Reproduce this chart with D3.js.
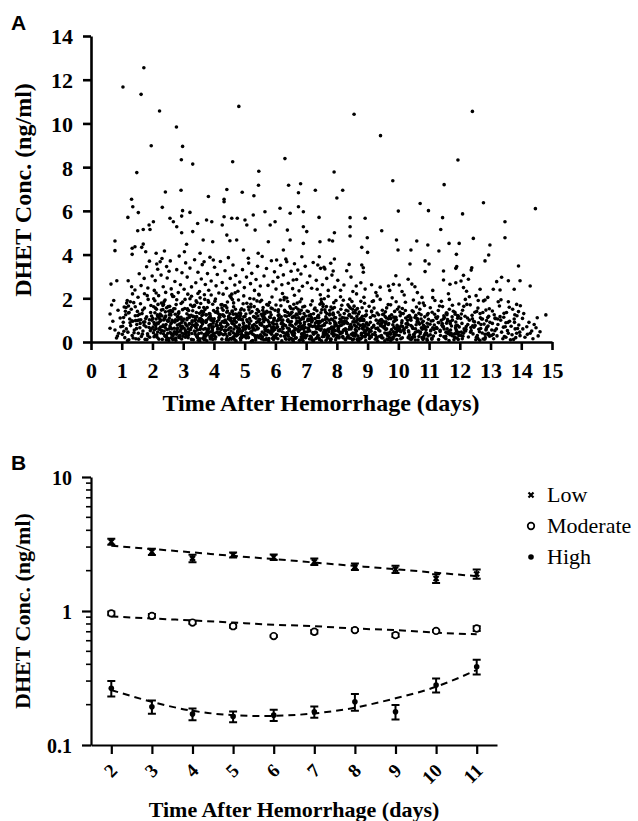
<!DOCTYPE html>
<head>
    <meta charset="utf-8">
    <script src="https://d3js.org/d3.v7.min.js"></script>
    <style>
        body { margin: 0; background: #fff; }
        text { font-family: "Liberation Serif", "Times New Roman", serif; }
    </style>
</head>

<body>
    <div id="chart"></div>
</body>

<script>

    // ---- panel A : individual samples, [day, conc, day, conc, ...] ----
    const outliers = [
        0.78,4.62, 0.78,4.18, 0.65,2.65, 0.84,2.8,
        1.04,11.67, 1.72,12.55, 1.63,11.33, 2.23,10.57, 1.49,7.75, 1.96,8.98, 2.78,9.84, 2.98,8.95,
        2.94,8.34, 3.31,8.14, 4.81,10.78, 4.61,8.25, 5.46,7.81, 5.45,7.17, 6.31,8.39, 6.43,7.17,
        6.82,7.24, 6.75,6.83, 7.30,6.94, 2.42,6.86, 2.93,6.94, 3.82,6.66, 4.42,6.98, 4.92,6.85,
        5.30,6.69, 1.32,6.53, 4.33,6.53, 8.56,10.42, 9.42,9.44, 12.41,10.55, 11.94,8.33, 7.91,7.78,
        9.82,7.38, 11.49,7.20, 8.19,6.94, 8.0,6.59, 10.71,6.34, 10.98,6.01, 10.0,5.99, 12.77,6.37,
        14.46,6.1, 12.09,5.86, 7.42,5.70, 8.43,5.69, 8.92,5.66, 6.91,5.96, 13.47,5.50, 13.47,4.77,
        8.43,5.27, 8.43,4.85, 9.46,5.09, 11.44,5.69, 11.38,5.15, 7.92,5.0, 7.75,4.67, 7.86,4.62,
        7.45,4.59, 8.99,4.77, 9.94,4.67, 10.6,4.62, 10.96,4.44, 11.65,4.51, 11.98,4.51, 12.44,4.74,
        12.98,4.44, 9.99,4.21, 10.41,4.21, 11.32,4.16, 11.89,4.01, 12.94,3.98, 12.82,3.71, 8.81,4.33,
        9.0,4.10, 7.43,3.9, 7.8,3.6, 7.92,3.8, 7.38,3.52, 7.47,3.37, 7.61,3.34, 7.88,3.25, 8.32,3.26,
        8.4,3.55, 8.81,3.52, 8.86,3.4, 8.86,3.19, 10.38,3.57, 11.0,3.57, 10.87,3.71, 10.87,3.22,
        11.47,3.25, 11.87,3.37, 11.9,3.45, 12.39,3.4, 12.37,3.29, 13.91,3.48, 12.12,3.05, 12.04,2.79,
        12.28,2.87, 9.92,3.03, 9.84,2.64, 10.03,2.61, 9.68,2.56, 10.32,2.87, 10.44,2.65, 10.54,2.53,
        11.47,2.84, 11.68,2.64, 11.87,2.71, 12.12,2.49, 12.66,2.41, 13.36,2.96, 13.2,2.76, 13.09,2.41,
        13.31,2.38, 13.58,2.8, 13.96,2.8, 13.77,2.41, 14.29,2.56, 13.58,1.84, 13.85,1.72, 13.91,1.39,
        14.04,1.08, 14.52,1.11, 14.8,1.24, 14.61,0.47, 14.29,0.4, 13.96,0.29, 14.18,0.7, 13.44,1.31,
        13.31,1.16, 12.91,2.04, 12.82,1.92,
        1.2,5.7, 1.36,6.19, 1.54,5.92, 1.34,4.29, 1.34,4.01, 1.43,4.36, 1.52,5.09, 1.7,5.15, 1.65,4.33,
        1.7,4.48, 1.78,4.13, 1.89,5.35, 1.92,5.15, 2.03,5.5, 1.21,2.8, 1.32,2.53, 1.43,2.38, 1.73,2.91,
        2.12,4.06, 2.17,3.33, 2.32,6.16, 2.25,3.67, 2.46,3.45, 2.39,4.16, 2.57,5.66, 2.68,5.5, 2.79,5.27,
        2.95,5.76, 2.98,6.01, 3.22,5.93, 2.95,5.0, 3.11,4.47, 3.04,4.13, 3.31,5.05, 3.47,5.42, 3.76,5.58,
        3.93,5.5, 3.65,4.67, 3.96,4.59, 3.55,4.06, 3.68,3.67, 3.98,3.75, 4.27,5.35, 4.33,6.42, 4.33,5.73,
        4.58,5.66, 4.76,5.66, 4.42,4.89, 4.52,4.63, 4.74,4.67, 5.01,5.58, 5.07,5.35, 5.34,5.12, 5.28,5.81,
        4.96,4.21, 5.12,3.83, 5.44,4.06, 5.77,4.59, 5.66,5.96, 5.83,5.35, 5.99,5.5, 6.15,6.12, 6.48,5.89,
        6.39,5.12, 6.48,4.67, 6.26,4.21, 6.04,3.75, 6.37,3.67, 6.75,6.19, 6.91,5.27, 6.91,4.51, 7.02,5.05,
        6.86,3.9, 6.73,3.29, 6.58,2.84
    ];

    const midBand = [
        1.57,3.12, 1.63,2.58, 1.81,3.44, 1.74,2.21, 1.9,3.7, 1.85,2.47, 1.99,3.02, 2.06,2.36, 2.14,3.57,
        2.09,2.81, 2.2,2.12, 2.28,3.06, 2.35,2.53, 2.31,3.82, 2.43,2.27, 2.48,2.93, 2.54,3.24, 2.61,2.43,
        2.58,3.71, 2.66,2.08, 2.73,2.77, 2.79,3.31, 2.84,2.26, 2.87,3.93, 2.91,2.62, 2.96,3.17, 3.03,2.41,
        3.08,3.62, 3.15,2.19, 3.13,2.97, 3.22,3.38, 3.27,2.52, 3.37,3.76, 3.41,2.71, 3.48,3.19, 3.53,2.31,
        3.59,2.88, 3.62,3.54, 3.69,2.16, 3.72,2.63, 3.79,3.13, 3.83,2.37, 3.87,3.88, 3.91,2.79, 4.02,3.42,
        4.07,2.57, 4.11,3.09, 4.16,2.24, 4.21,3.68, 4.27,2.72, 4.36,3.26, 4.41,2.46, 4.47,3.86, 4.53,2.91,
        4.58,2.19, 4.62,3.52, 4.68,2.61, 4.71,3.04, 4.78,2.32, 4.84,2.74, 4.93,3.31, 4.99,2.49, 5.06,2.97,
        5.13,3.61, 5.19,2.67, 5.23,3.14, 5.32,2.36, 5.37,2.86, 5.42,3.46, 5.51,2.56, 5.57,3.91, 5.63,3.02,
        5.71,3.36, 5.76,2.59, 5.87,3.72, 5.92,2.76, 5.97,3.21, 6.02,2.42, 6.08,2.96, 6.17,3.51, 6.21,2.62,
        6.26,3.07, 6.34,3.79, 6.42,2.69, 6.51,3.24, 6.56,2.44, 6.62,3.58, 6.69,2.86, 6.77,2.34, 6.83,3.11,
        6.88,2.55, 6.97,3.46, 7.04,2.71, 7.12,3.02, 7.18,2.46, 7.23,3.64, 7.33,2.82, 7.36,2.41, 7.53,2.62,
        7.58,3.42, 7.67,2.91, 7.72,2.36, 7.84,3.06, 7.93,2.51, 8.03,2.82, 8.12,2.37, 8.23,2.61, 8.46,2.97,
        8.52,2.31, 8.63,2.56, 8.78,2.71, 8.92,2.42, 9.13,2.62, 9.27,2.26, 9.41,2.51, 9.72,2.36, 10.12,2.31,
        10.62,2.26, 11.12,2.36, 11.63,2.21, 12.22,2.32, 12.53,2.12
    ];

    const d00 = [0.62,.63, .78,.55, .86,.27, .67,1.69, .62,1.28, .71,.95, .9,.4, .95,1.1, .83,.18, .74,1.9, .97,.7, .88,1.45];

    const d01 = [1.02,.35, 1.05,.9, 1.08,1.6, 1.1,.2, 1.13,1.25, 1.15,.6, 1.18,1.9, 1.2,.45, 1.23,.1, 1.26,1.05,
        1.29,.75, 1.31,1.5, 1.34,.3, 1.36,.95, 1.39,1.8, 1.41,.55, 1.44,1.2, 1.46,.15, 1.49,.8, 1.51,1.4,
        1.54,.4, 1.56,1.0, 1.59,.65, 1.61,1.75, 1.64,.25, 1.66,1.3, 1.69,.5, 1.71,.9, 1.74,1.55, 1.76,.12,
        1.79,.7, 1.81,1.15, 1.84,.38, 1.86,1.95, 1.89,.85, 1.91,.22, 1.94,1.35, 1.96,.6, 1.98,1.0, 1.53,2.05, 1.22,1.65];

    const d02 = [2.03,.42, 2.41,1.12, 2.77,.18, 2.15,.87, 2.56,1.63, 2.92,.55, 2.08,1.34, 2.67,.29, 2.33,.71, 2.86,1.05,
        2.21,.13, 2.49,.96, 2.98,1.48, 2.12,.62, 2.62,.35, 2.38,1.85, 2.81,.78, 2.27,1.22, 2.71,.47, 2.05,.24,
        2.53,1.41, 2.94,.88, 2.18,1.72, 2.45,.09, 2.83,1.17, 2.3,.52, 2.64,.99, 2.1,1.55, 2.58,.66, 2.89,.31,
        2.24,.94, 2.74,1.27, 2.36,.38, 2.97,.72, 2.01,1.08, 2.47,.57, 2.79,1.93, 2.14,.33, 2.6,.84, 2.42,1.38,
        2.88,.2, 2.26,.68, 2.69,1.52, 2.07,.81, 2.52,.16, 2.95,1.02, 2.34,1.67, 2.76,.44, 2.19,1.15, 2.63,.6,
        2.4,.27, 2.85,1.31, 2.11,.75, 2.55,1.09, 2.9,.49, 2.29,1.46, 2.72,.92, 2.04,1.98, 2.5,.4, 2.82,.64,
        2.16,1.24, 2.66,.11, 2.37,1.01, 2.93,1.76, 2.23,.58, 2.59,1.44, 2.78,.36, 2.44,.8, 2.99,.26, 2.31,1.19];

    const d03 = [3.04,.37, 3.52,1.06, 3.88,.14, 3.21,.83, 3.67,1.58, 3.95,.51, 3.12,1.29, 3.73,.26, 3.41,.69, 3.9,1.01,
        3.27,.12, 3.58,.93, 3.99,1.44, 3.16,.6, 3.7,.33, 3.45,1.81, 3.84,.76, 3.33,1.18, 3.78,.45, 3.07,.22,
        3.61,1.37, 3.97,.86, 3.24,1.69, 3.49,.08, 3.86,1.14, 3.36,.5, 3.65,.97, 3.14,1.52, 3.56,.63, 3.92,.3,
        3.29,.91, 3.75,1.24, 3.39,.36, 3.98,.7, 3.02,1.05, 3.47,.55, 3.81,1.9, 3.18,.32, 3.63,.82, 3.43,1.35,
        3.89,.19, 3.26,.66, 3.71,1.49, 3.09,.79, 3.54,.15, 3.94,.99, 3.35,1.64, 3.77,.42, 3.2,1.12, 3.66,.58,
        3.44,.25, 3.87,1.28, 3.13,.73, 3.57,1.07, 3.91,.47, 3.31,1.43, 3.74,.9, 3.06,1.95, 3.51,.39, 3.83,.62,
        3.19,1.21, 3.68,.1, 3.38,.98, 3.96,1.73, 3.23,.56, 3.6,1.41, 3.8,.34, 3.46,.78, 3.93,.24, 3.32,1.16,
        3.55,2.02, 3.11,.44, 3.79,.53, 3.42,.85, 3.64,1.26];

    const d04 = [4.03,.4, 4.48,1.09, 4.86,.17, 4.22,.85, 4.64,1.61, 4.94,.53, 4.13,1.32, 4.72,.28, 4.39,.7, 4.89,1.03,
        4.26,.13, 4.57,.95, 4.98,1.46, 4.15,.61, 4.69,.34, 4.44,1.83, 4.83,.77, 4.32,1.2, 4.77,.46, 4.06,.23,
        4.6,1.39, 4.96,.87, 4.23,1.7, 4.47,.09, 4.85,1.16, 4.35,.51, 4.66,.98, 4.12,1.54, 4.55,.65, 4.91,.31,
        4.28,.93, 4.74,1.26, 4.37,.37, 4.97,.71, 4.01,1.06, 4.46,.56, 4.8,1.92, 4.17,.33, 4.62,.83, 4.42,1.36,
        4.88,.2, 4.25,.67, 4.7,1.5, 4.08,.8, 4.53,.16, 4.93,1.01, 4.34,1.66, 4.76,.43, 4.19,1.13, 4.65,.59,
        4.43,.27, 4.87,1.3, 4.11,.74, 4.56,1.08, 4.9,.48, 4.3,1.45, 4.73,.91, 4.05,1.97, 4.5,.4, 4.82,.63,
        4.18,1.23, 4.67,.11, 4.36,1.0, 4.95,1.75, 4.24,.57, 4.59,1.42, 4.79,.35, 4.45,.79, 4.99,.25, 4.33,1.18,
        4.52,2.1, 4.1,.45, 4.78,.52, 4.41,.88, 4.63,1.27];

    const d05 = [5.02,.58, 5.37,.21, 5.81,1.14, 5.14,1.47, 5.63,.39, 5.95,.82, 5.26,.07, 5.49,1.02, 5.88,.65, 5.09,.94,
        5.72,1.71, 5.33,.3, 5.56,.77, 5.91,.16, 5.18,1.33, 5.67,.53, 5.43,1.19, 5.84,.44, 5.05,.73, 5.6,1.58,
        5.97,.27, 5.29,.61, 5.75,.99, 5.4,1.88, 5.11,.35, 5.53,.86, 5.86,1.25, 5.22,.48, 5.69,.12, 5.46,1.4,
        5.93,.69, 5.16,1.07, 5.58,.24, 5.79,.9, 5.31,1.62, 5.04,.42, 5.65,1.11, 5.98,.57, 5.36,.18, 5.51,.79,
        5.83,1.36, 5.2,.96, 5.71,.32, 5.44,.63, 5.9,1.52, 5.12,.2, 5.61,1.21, 5.27,.74, 5.77,.46, 5.48,1.04,
        5.07,1.77, 5.55,.14, 5.89,.88, 5.34,.55, 5.66,1.29, 5.24,.38, 5.73,.71, 5.96,1.09, 5.41,.28, 5.15,.84,
        5.59,1.45, 5.85,.5, 5.3,1.97, 5.68,.6, 5.01,1.17, 5.52,.33, 5.8,.76, 5.38,1.31, 5.93,.22, 5.25,.67,
        5.62,.93, 5.47,2.15];

    const d06 = [6.04,.81, 6.42,.26, 6.77,1.37, 6.13,.52, 6.58,.05, 6.91,1.06, 6.23,.69, 6.5,1.54, 6.85,.38, 6.09,1.21,
        6.66,.6, 6.33,.15, 6.72,.92, 6.96,.45, 6.18,1.66, 6.61,.31, 6.39,.97, 6.88,.73, 6.02,.2, 6.55,1.12,
        6.8,1.84, 6.27,.42, 6.69,.86, 6.45,.11, 6.93,1.3, 6.15,.57, 6.53,.76, 6.83,1.03, 6.3,1.45, 6.06,.34,
        6.63,.64, 6.98,.19, 6.36,1.18, 6.75,.48, 6.48,.89, 6.11,1.01, 6.6,1.73, 6.87,.28, 6.25,.62, 6.71,1.24,
        6.41,.36, 6.94,.8, 6.2,.99, 6.57,.09, 6.79,.55, 6.32,1.4, 6.07,.7, 6.65,.17, 6.9,1.13, 6.44,.5,
        6.16,1.92, 6.52,.94, 6.84,.23, 6.28,.78, 6.74,1.5, 6.38,.4, 6.97,.66, 6.12,1.09, 6.59,.3, 6.81,.85,
        6.35,.13, 6.68,1.28, 6.22,.47, 6.47,1.62, 6.92,.59, 6.05,.96, 6.62,1.19, 6.89,.37, 6.29,2.05, 6.56,.72,
        6.4,1.35, 6.78,.08];

    const d07 = [7.03,.29, 7.46,.91, 7.81,.12, 7.15,1.26, 7.6,.55, 7.92,1.58, 7.24,.36, 7.53,.74, 7.87,1.01, 7.08,.64,
        7.69,.19, 7.35,1.43, 7.74,.47, 7.97,.83, 7.19,.1, 7.64,1.15, 7.41,.6, 7.9,1.8, 7.05,.97, 7.57,.33,
        7.83,.68, 7.29,1.07, 7.71,.24, 7.48,1.34, 7.95,.52, 7.13,.79, 7.55,1.62, 7.85,.4, 7.32,.16, 7.09,1.2,
        7.66,.89, 7.99,.31, 7.38,.71, 7.77,1.29, 7.5,.06, 7.12,.5, 7.62,1.03, 7.89,.58, 7.27,1.5, 7.73,.27,
        7.43,.95, 7.96,1.11, 7.22,.43, 7.59,.77, 7.8,.14, 7.34,.62, 7.07,1.39, 7.68,.35, 7.93,.92, 7.45,1.73,
        7.17,.21, 7.54,1.0, 7.86,.66, 7.3,.45, 7.76,1.24, 7.4,.85, 7.98,.18, 7.14,.73, 7.61,1.47, 7.84,.38,
        7.37,1.13, 7.7,.56, 7.25,.09, 7.49,1.95, 7.94,.8, 7.06,1.05, 7.63,.42, 7.88,1.32, 7.31,.7, 7.58,.25,
        7.2,.98, 7.79,.61];

    const d08 = [8.04,.5, 8.44,.17, 8.79,1.1, 8.16,.78, 8.61,1.45, 8.93,.3, 8.25,.96, 8.52,.41, 8.86,.69, 8.1,1.23,
        8.68,.08, 8.35,.85, 8.73,1.37, 8.97,.55, 8.19,.25, 8.63,.93, 8.4,1.62, 8.89,.44, 8.06,.72, 8.56,1.06,
        8.81,.2, 8.28,.6, 8.7,1.28, 8.47,.35, 8.95,.82, 8.13,1.5, 8.54,.13, 8.84,.99, 8.31,.47, 8.08,.89,
        8.65,1.17, 8.98,.65, 8.37,.28, 8.76,.76, 8.49,1.85, 8.11,.38, 8.6,.57, 8.87,1.04, 8.24,1.3, 8.72,.15,
        8.42,.71, 8.94,1.2, 8.21,.53, 8.58,.92, 8.8,.33, 8.33,1.09, 8.05,.61, 8.67,1.53, 8.92,.23, 8.45,.8,
        8.17,.42, 8.53,1.34, 8.85,.74, 8.29,.11, 8.75,.97, 8.39,.58, 8.96,1.42, 8.14,1.0, 8.62,.36, 8.83,.63,
        8.36,1.7, 8.69,.27, 8.23,.84, 8.48,1.14, 8.91,.46, 8.07,.19, 8.64,.7, 8.88,2.05, 8.3,.9, 8.57,.31];

    const d09 = [9.05,.44, 9.47,.88, 9.83,.15, 9.17,1.21, 9.62,.6, 9.94,1.02, 9.26,.31, 9.55,.73, 9.88,1.4, 9.1,.52,
        9.71,.2, 9.37,.96, 9.76,.38, 9.99,.67, 9.21,1.55, 9.66,.1, 9.43,.81, 9.92,1.13, 9.07,.27, 9.59,.57,
        9.85,.93, 9.31,1.33, 9.73,.46, 9.5,.18, 9.96,.76, 9.14,.65, 9.57,1.17, 9.87,.35, 9.34,.86, 9.12,.23,
        9.68,1.06, 9.4,.5, 9.79,.13, 9.52,1.28, 9.03,.79, 9.64,.4, 9.91,.62, 9.28,1.0, 9.75,1.7, 9.45,.29,
        9.19,.71, 9.6,.92, 9.82,.21, 9.36,.55, 9.09,1.12, 9.69,.84, 9.95,.32, 9.48,1.45, 9.24,.43, 9.56,.06,
        9.89,.98, 9.33,.64, 9.78,1.25, 9.42,.75, 9.15,1.85, 9.63,.37, 9.98,.52, 9.3,.16];

    const d10 = [10.04,.61, 10.46,.22, 10.81,.95, 10.16,1.3, 10.62,.48, 10.93,.14, 10.25,.83, 10.54,1.12, 10.87,.36,
        10.09,.74, 10.7,1.5, 10.35,.27, 10.75,.65, 10.98,1.04, 10.2,.41, 10.65,.9, 10.42,.12, 10.9,.56,
        10.06,1.2, 10.58,.79, 10.84,.3, 10.3,.99, 10.72,.45, 10.49,1.38, 10.95,.7, 10.13,.19, 10.56,.6,
        10.86,1.15, 10.33,.51, 10.11,.88, 10.67,.25, 10.39,1.05, 10.78,.58, 10.51,.35, 10.02,1.6, 10.63,.97,
        10.89,.42, 10.27,.68, 10.74,1.25, 10.44,.17, 10.18,.53, 10.6,1.08, 10.82,.76, 10.37,.32, 10.08,.47,
        10.68,1.78, 10.94,.86, 10.47,.63, 10.23,1.44, 10.55,.09, 10.88,.39, 10.32,.8, 10.77,.2, 10.41,1.0,
        10.14,.71, 10.97,1.3];

    const d11 = [11.05,.5, 11.47,1.06, 11.82,.23, 11.17,.78, 11.61,.39, 11.93,1.21, 11.26,.62, 11.55,.15, 11.87,.91,
        11.1,1.36, 11.7,.55, 11.37,.3, 11.76,1.0, 11.98,.69, 11.21,.42, 11.66,1.5, 11.43,.84, 11.91,.18,
        11.07,.96, 11.59,.6, 11.85,1.27, 11.31,.11, 11.73,.73, 11.5,1.12, 11.96,.44, 11.14,.27, 11.57,.86,
        11.88,.57, 11.34,1.65, 11.12,.65, 11.68,.33, 11.4,.99, 11.79,1.41, 11.52,.2, 11.03,.81, 11.64,.48,
        11.92,.76, 11.28,1.15, 11.75,.29, 11.45,.7, 11.19,1.9, 11.6,1.03, 11.83,.37, 11.36,.54, 11.09,.13,
        11.69,.93, 11.95,1.18, 11.48,.24, 11.24,.66, 11.56,1.32, 11.89,.5, 11.32,.88];

    const d12 = [12.05,.45, 12.48,.92, 12.83,.2, 12.17,1.18, 12.62,.58, 12.94,.33, 12.26,.8, 12.55,1.4, 12.88,.67,
        12.1,.26, 12.71,1.05, 12.37,.52, 12.76,.14, 12.98,.9, 12.21,.71, 12.66,1.3, 12.43,.37, 12.91,1.12,
        12.07,.85, 12.59,.16, 12.85,.55, 12.31,1.0, 12.73,.41, 12.5,.75, 12.96,1.52, 12.14,.6, 12.57,.29,
        12.87,.98, 12.34,1.7, 12.12,.4, 12.68,.62, 12.4,1.22, 12.79,.82, 12.52,.1, 12.03,1.08, 12.64,.47,
        12.92,.73, 12.28,.23, 12.75,1.35, 12.45,.95, 12.19,.5, 12.6,1.9, 12.82,.35, 12.36,.66, 12.09,1.45];

    const d13 = [13.04,.55, 13.45,.25, 13.78,.9, 13.15,1.1, 13.58,.4, 13.88,.62, 13.24,.8, 13.52,1.35, 13.82,.2,
        13.09,.35, 13.67,.72, 13.33,1.0, 13.72,1.5, 13.95,.45, 13.19,.6, 13.62,.95, 13.4,.15, 13.86,1.2,
        13.06,.85, 13.55,.52, 13.29,1.65, 13.7,.33, 13.48,.7, 13.12,1.25, 13.65,.1, 13.92,.78, 13.36,.45,
        13.77,1.05, 13.21,.28, 13.5,.88];

    const d14 = [14.05,.6, 14.12,.22, 14.25,.9, 14.34,.5, 14.42,.8, 14.38,.15, 14.08,1.3, 14.2,.35, 14.55,.28, 14.48,.65];

    // dense core below ~1.5 ng/ml
    const c01 = [1.03,.72, 1.37,.18, 1.62,1.02, 1.12,1.41, 1.48,.61, 1.85,.29, 1.27,.88, 1.58,1.27, 1.93,.52, 1.19,.07,
        1.73,.77, 1.44,1.61, 1.07,.49, 1.67,.36, 1.97,1.19, 1.33,.97, 1.55,.13, 1.89,.66, 1.24,1.35, 1.78,1.07,
        1.4,.42, 1.6,.85, 1.16,1.78, 1.82,.11, 1.5,.98];

    const c02 = [2.02,.68, 2.46,.21, 2.81,1.15, 2.17,.46, 2.63,.9, 2.95,.14, 2.25,1.28, 2.54,.59, 2.88,.82, 2.09,.31,
        2.71,.63, 2.39,1.06, 2.76,.08, 2.99,.97, 2.13,1.5, 2.58,.43, 2.35,.77, 2.84,1.33, 2.06,.55, 2.61,.19,
        2.92,.71, 2.28,.99, 2.68,.37, 2.43,1.19, 2.97,.4, 2.19,.85, 2.51,1.62, 2.86,.26, 2.32,.12, 2.73,.93,
        2.12,1.05, 2.57,.73, 2.45,.3, 2.91,1.1, 2.22,.6, 2.65,1.4, 2.38,.5, 2.8,.57, 2.05,.89, 2.49,.98,
        2.7,.15, 2.27,.41, 2.94,.61, 2.36,1.72, 2.6,1.24, 2.15,.22, 2.83,.46, 2.41,.67, 2.75,1.02, 2.53,.07];

    const c03 = [3.03,.63, 3.47,.19, 3.83,1.09, 3.18,.44, 3.62,.88, 3.96,.12, 3.26,1.22, 3.55,.57, 3.89,.8, 3.1,.29,
        3.72,.61, 3.4,1.03, 3.77,.06, 3.99,.95, 3.14,1.47, 3.59,.41, 3.36,.75, 3.85,1.3, 3.07,.52, 3.64,.17,
        3.93,.69, 3.29,.97, 3.69,.35, 3.44,1.16, 3.98,.38, 3.2,.83, 3.52,1.58, 3.87,.24, 3.33,.1, 3.74,.91,
        3.12,1.02, 3.58,.71, 3.46,.28, 3.92,1.07, 3.23,.58, 3.66,1.37, 3.39,.48, 3.81,.55, 3.06,.87, 3.5,.96,
        3.71,.13, 3.28,.39, 3.95,.59, 3.37,1.68, 3.61,1.21, 3.16,.2, 3.84,.44, 3.42,.65, 3.76,.99, 3.54,.05,
        3.3,.78, 3.68,.27];

    const c04 = [4.02,.26, 4.45,.8, 4.82,.47, 4.16,1.12, 4.61,.19, 4.94,.66, 4.24,.38, 4.53,1.01, 4.87,.09, 4.08,.74,
        4.7,1.28, 4.38,.52, 4.75,.31, 4.97,1.15, 4.12,.6, 4.57,.13, 4.34,.89, 4.83,.57, 4.05,1.36, 4.63,.42,
        4.91,.21, 4.27,.7, 4.67,1.07, 4.42,.16, 4.96,.85, 4.19,.45, 4.51,.64, 4.85,1.22, 4.31,.33, 4.72,.05,
        4.1,.93, 4.56,.5, 4.44,1.42, 4.9,.36, 4.21,.78, 4.64,.24, 4.37,.97, 4.79,.61, 4.04,.14, 4.48,1.18,
        4.69,.72, 4.26,1.55, 4.93,.29, 4.35,.55, 4.59,.86, 4.14,.4, 4.81,1.04, 4.4,.11, 4.74,.68, 4.52,.35,
        4.29,1.25, 4.66,.82];

    const c05 = [5.03,.31, 5.44,.94, 5.79,.16, 5.13,.71, 5.58,1.18, 5.92,.49, 5.22,.03, 5.5,.83, 5.86,.38, 5.07,1.02,
        5.67,.58, 5.35,.24, 5.74,1.36, 5.97,.65, 5.18,.44, 5.62,.1, 5.39,.9, 5.89,.56, 5.05,.19, 5.54,1.27,
        5.82,.76, 5.28,.34, 5.7,.5, 5.45,.97, 5.94,.12, 5.15,.62, 5.48,.27, 5.84,1.12, 5.31,.8, 5.09,.4,
        5.64,.69, 5.99,1.45, 5.36,.09, 5.76,.53, 5.52,.86, 5.11,.22, 5.6,1.05, 5.88,.36, 5.25,.74, 5.71,.15,
        5.42,.6, 5.95,.99, 5.2,1.6, 5.57,.46, 5.78,.07, 5.33,1.14, 5.06,.67, 5.66,.33, 5.91,.87, 5.47,.2,
        5.27,.55, 5.63,1.32, 5.85,.43, 5.38,.72];

    const c06 = [6.03,.35, 6.47,.78, 6.82,.1, 6.14,1.06, 6.59,.5, 6.93,.23, 6.22,.88, 6.51,1.33, 6.86,.61, 6.08,.15,
        6.7,.96, 6.37,.42, 6.76,.71, 6.98,1.19, 6.17,.28, 6.64,.55, 6.41,1.02, 6.9,.07, 6.05,.66, 6.56,.34,
        6.84,1.45, 6.26,.81, 6.68,.19, 6.45,.6, 6.95,.9, 6.12,1.25, 6.53,.44, 6.87,.12, 6.33,.75, 6.1,.52,
        6.67,1.1, 6.97,.3, 6.39,.64, 6.79,.97, 6.5,.17, 6.19,.84, 6.62,.4, 6.89,1.6, 6.29,.26, 6.73,.58,
        6.43,.93, 6.94,.45, 6.21,.05, 6.58,1.15, 6.81,.69, 6.34,.32, 6.09,1.38, 6.66,.82, 6.91,.22, 6.46,.54,
        6.24,1.0, 6.55,.13, 6.88,.63, 6.31,1.2];

    const c07 = [7.04,.47, 7.43,.12, 7.78,.86, 7.16,1.14, 7.61,.33, 7.91,.69, 7.23,.05, 7.52,.97, 7.88,.41, 7.09,.8,
        7.67,1.3, 7.36,.21, 7.73,.59, 7.96,.1, 7.18,.92, 7.63,.5, 7.4,1.22, 7.89,.28, 7.06,.63, 7.56,.37,
        7.82,1.05, 7.28,.74, 7.7,.17, 7.47,.54, 7.94,.88, 7.14,.26, 7.51,1.47, 7.86,.65, 7.33,.43, 7.1,1.0,
        7.65,.08, 7.98,.76, 7.39,.31, 7.75,.99, 7.49,.6, 7.11,.14, 7.6,.83, 7.87,1.25, 7.26,.39, 7.72,.56,
        7.42,.18, 7.93,1.12, 7.21,.71, 7.57,.45, 7.79,.03, 7.35,.95, 7.08,.58, 7.66,1.62, 7.92,.34, 7.44,.73,
        7.19,1.08, 7.53,.24, 7.85,.5, 7.3,.87];

    const c08 = [8.03,.28, 8.43,.66, 8.77,.14, 8.15,.91, 8.6,.42, 8.92,1.2, 8.24,.57, 8.51,.09, 8.85,.8, 8.09,.46,
        8.67,1.03, 8.34,.22, 8.72,.61, 8.96,.35, 8.18,1.12, 8.62,.71, 8.39,.18, 8.88,.97, 8.05,.52, 8.55,1.35,
        8.8,.4, 8.27,.12, 8.69,.83, 8.46,.6, 8.94,.07, 8.12,.75, 8.53,.3, 8.83,1.18, 8.3,.95, 8.07,.24,
        8.64,.5, 8.97,.88, 8.36,1.42, 8.75,.16, 8.48,.68, 8.1,1.05, 8.59,.27, 8.86,.58, 8.23,.86, 8.71,.05,
        8.41,1.26, 8.93,.48, 8.2,.2, 8.57,.77, 8.79,1.0, 8.32,.38, 8.04,.64, 8.66,.13, 8.91,.73, 8.44,1.55,
        8.16,.43, 8.52,.92, 8.84,.26, 8.28,.55];

    const c09 = [9.04,.58, 9.46,.2, 9.82,.79, 9.16,.34, 9.61,1.1, 9.93,.45, 9.25,.13, 9.54,.64, 9.87,.27, 9.09,.9,
        9.7,.39, 9.36,1.25, 9.75,.07, 9.98,.55, 9.2,.76, 9.65,.3, 9.42,1.0, 9.91,.61, 9.06,.16, 9.58,.85,
        9.84,.47, 9.3,.22, 9.72,1.18, 9.49,.7, 9.95,.11, 9.13,1.38, 9.56,.41, 9.86,.68, 9.33,.04, 9.11,.49,
        9.67,.8, 9.39,.26, 9.78,.57, 9.51,.95, 9.02,.33, 9.63,.14, 9.9,1.05, 9.27,.62, 9.74,.36, 9.44,.83];

    const c10 = [10.03,.3, 10.45,.7, 10.8,.12, 10.15,.55, 10.61,.92, 10.92,.4, 10.24,1.1, 10.53,.24, 10.86,.63,
        10.08,.15, 10.69,.82, 10.34,.46, 10.74,1.05, 10.97,.28, 10.19,.6, 10.64,.09, 10.41,.75, 10.89,.35,
        10.05,.52, 10.57,1.22, 10.83,.18, 10.29,.86, 10.71,.38, 10.48,.62, 10.94,.08, 10.12,.97, 10.55,.43,
        10.85,.71, 10.32,.2, 10.1,1.3, 10.66,.5, 10.38,.14, 10.77,.88, 10.5,.33, 10.01,.68];

    const c11 = [11.04,.33, 11.46,.72, 11.81,.1, 11.16,.57, 11.6,.95, 11.92,.42, 11.25,1.08, 11.54,.26, 11.86,.65,
        11.09,.17, 11.69,.84, 11.36,.48, 11.75,1.15, 11.97,.3, 11.2,.62, 11.65,.07, 11.42,.77, 11.9,.38,
        11.06,.55, 11.58,1.25, 11.84,.2, 11.3,.89, 11.72,.4, 11.49,.6, 11.95,.12, 11.13,.98, 11.55,.45, 11.87,.74];

    const c12 = [12.04,.3, 12.46,.68, 12.81,.13, 12.16,.52, 12.61,.88, 12.93,.4, 12.25,1.1, 12.54,.22, 12.86,.6,
        12.08,.15, 12.69,.8, 12.35,.45, 12.74,1.05, 12.97,.26, 12.2,.58, 12.65,.08, 12.42,.74, 12.9,.36];

    const c13 = [13.03,.3, 13.42,.68, 13.75,.12, 13.14,.52, 13.57,.9, 13.85,.4, 13.23,1.05, 13.5,.22, 13.8,.6, 13.1,.15];

    // band between ~1 and ~2.2 ng/ml
    const b01 = [1.06,1.12, 1.28,1.84, 1.45,.98, 1.68,1.46, 1.83,2.12, 1.14,1.58, 1.52,1.21, 1.95,1.67, 1.35,2.2,
        1.75,.92, 1.22,1.33, 1.9,1.02];
    const b02 = [2.04,1.61, 2.23,1.07, 2.41,1.92, 2.58,1.29, 2.77,1.71, 2.93,1.13, 2.12,2.24, 2.34,1.49, 2.52,.95,
        2.69,2.08, 2.86,1.38, 2.98,1.83, 2.17,1.19, 2.46,1.57, 2.63,2.17, 2.81,.99, 2.29,1.78, 2.55,1.24, 2.73,1.52, 2.08,1.89];
    const b03 = [3.05,1.53, 3.22,1.98, 3.39,1.14, 3.57,1.76, 3.74,1.25, 3.91,2.15, 3.13,1.08, 3.31,1.62, 3.48,2.22,
        3.66,1.37, 3.83,1.82, 3.97,1.01, 3.18,1.44, 3.42,1.88, 3.6,1.03, 3.78,1.58, 3.27,2.09, 3.53,1.31, 3.7,1.95, 3.88,1.19];
    const b04 = [4.03,1.87, 4.21,1.24, 4.38,1.66, 4.56,2.03, 4.73,1.12, 4.9,1.52, 4.11,1.41, 4.3,2.19, 4.47,1.05,
        4.64,1.79, 4.82,1.33, 4.97,2.11, 4.16,1.02, 4.42,1.57, 4.6,1.94, 4.78,1.18, 4.26,1.71, 4.52,1.29, 4.69,2.25, 4.87,1.46];
    const b05 = [5.04,1.28, 5.2,1.73, 5.37,1.09, 5.55,1.91, 5.72,1.41, 5.89,2.06, 5.12,1.6, 5.29,1.16, 5.46,2.18,
        5.63,1.34, 5.81,1.81, 5.96,1.07, 5.17,1.99, 5.41,1.49, 5.59,1.21, 5.77,1.68, 5.24,1.39, 5.5,1.84, 5.68,1.03, 5.86,1.55];
    const b06 = [6.02,1.69, 6.19,1.15, 6.37,2.01, 6.54,1.36, 6.71,1.78, 6.88,1.08, 6.1,1.47, 6.28,1.93, 6.45,1.22,
        6.62,2.14, 6.8,1.3, 6.95,1.63, 6.14,1.04, 6.4,1.85, 6.58,1.51, 6.76,1.11, 6.23,2.22, 6.49,1.27, 6.67,1.58, 6.85,1.97];
    const b07 = [7.03,1.42, 7.2,1.88, 7.38,1.17, 7.55,1.73, 7.72,2.09, 7.89,1.26, 7.11,1.03, 7.29,1.55, 7.46,2.16,
        7.63,1.37, 7.81,1.6, 7.97,1.9, 7.15,1.7, 7.41,1.12, 7.59,1.98, 7.77,1.45, 7.24,1.29, 7.5,1.82, 7.68,1.06, 7.86,1.52];
    const b08 = [8.04,1.36, 8.21,1.91, 8.39,1.21, 8.56,1.64, 8.73,1.05, 8.9,1.77, 8.12,2.07, 8.3,1.45, 8.47,1.13,
        8.64,2.2, 8.82,1.57, 8.96,1.25, 8.16,1.68, 8.42,1.96, 8.6,1.33, 8.78,1.86, 8.25,1.1, 8.51,1.5];
    const b09 = [9.05,1.63, 9.23,1.19, 9.41,1.95, 9.58,1.38, 9.76,1.07, 9.93,1.84, 9.13,1.42, 9.31,2.11, 9.49,1.26,
        9.67,1.71, 9.85,1.14, 9.97,1.5, 9.19,1.88, 9.45,1.03, 9.62,1.56, 9.8,2.02];
    const b10 = [10.05,1.37, 10.23,1.82, 10.41,1.11, 10.59,1.6, 10.77,2.04, 10.94,1.24, 10.13,1.53, 10.31,1.16,
        10.49,1.92, 10.67,1.31, 10.85,1.67, 10.19,2.15, 10.45,1.43, 10.63,1.05, 10.81,1.78, 10.36,1.21];
    const b11 = [11.04,1.57, 11.22,1.13, 11.4,1.86, 11.58,1.32, 11.76,1.68, 11.93,1.09, 11.12,2.03, 11.3,1.44,
        11.48,1.2, 11.66,1.95, 11.84,1.36, 11.97,1.74, 11.18,1.27, 11.44,1.62];
    const b12 = [12.05,1.28, 12.23,1.72, 12.41,1.06, 12.59,1.55, 12.77,1.88, 12.94,1.18, 12.13,1.63, 12.31,2.07,
        12.49,1.36, 12.67,1.11, 12.85,1.46, 12.18,1.95];
    const b13 = [13.06,1.42, 13.25,1.84, 13.43,1.13, 13.61,1.59, 13.79,1.25, 13.97,1.66, 13.15,1.07, 13.34,1.93];

    const xTicksA = [0,1,2,3,4,5,6,7,8,9,10,11,12,13,14,15];
    const yTicksA = [0,2,4,6,8,10,12,14];

    // ---- panel B : group means by day ----
    const days = [2,3,4,5,6,7,8,9,10,11];
    const lowMean  = [3.29,2.77,2.47,2.62,2.52,2.33,2.14,2.05,1.75,1.89];
    const lowErr   = [0.17,0.15,0.16,0.11,0.12,0.13,0.12,0.13,0.13,0.15];
    const lowFit   = [3.07,2.90,2.74,2.58,2.44,2.30,2.17,2.05,1.93,1.82];
    const modMean  = [0.96,0.92,0.82,0.77,0.65,0.70,0.72,0.66,0.71,0.74];
    const modErr   = [0.03,0.03,0.02,0.02,0.01,0.02,0.01,0.02,0.01,0.03];
    const modFit   = [0.91,0.88,0.85,0.82,0.79,0.77,0.74,0.72,0.69,0.67];
    const highMean = [0.265,0.193,0.170,0.163,0.167,0.177,0.21,0.177,0.28,0.384];
    const highErr  = [0.035,0.022,0.017,0.015,0.016,0.017,0.03,0.022,0.033,0.048];
    const highFit  = [0.257,0.21,0.18,0.167,0.165,0.172,0.19,0.223,0.272,0.363];
    const yTicksB = [0.1,1,10];
    const legendNames = ["Low","Moderate","High"];

    const SERIF = '"Liberation Serif", "Times New Roman", serif';

    const svg = d3.select("#chart")
        .append("svg")
            .attr("width", 638)
            .attr("height", 821);

    function pairs(arr){
        let out = [];
        for (let i = 0; i < arr.length; i += 2) out.push([arr[i], arr[i+1]]);
        return out;
    }

    function styleAxis(g, w, fs){
        g.attr("font-family", null);
        g.selectAll("path, line").attr("stroke", "#000").attr("stroke-width", w);
        g.selectAll("text").attr("fill", "#000")
            .style("font-family", SERIF)
            .style("font-weight", "bold").style("font-size", fs + "px");
    }

    // ================= panel A =================
    const xA = d3.scaleLinear().domain([0,15]).range([91,552]);
    const yA = d3.scaleLinear().domain([0,14]).range([342,36]);

    const points = [outliers, midBand, d00, d01, d02, d03, d04, d05, d06, d07, d08, d09, d10, d11, d12, d13, d14,
        c01, c02, c03, c04, c05, c06, c07, c08, c09, c10, c11, c12, c13,
        b01, b02, b03, b04, b05, b06, b07, b08, b09, b10, b11, b12, b13]
        .flatMap(pairs);

    svg.append("g").selectAll("circle")
        .data(points)
        .join("circle")
            .attr("cx", d => xA(d[0]))
            .attr("cy", d => yA(d[1]))
            .attr("r", 1.8)
            .attr("fill", "#000");

    const gxA = svg.append("g")
        .attr("transform", "translate(0,342)")
        .call(d3.axisBottom(xA).tickValues(xTicksA).tickFormat(d3.format("d"))
            .tickSize(8).tickSizeOuter(0).tickPadding(12));
    styleAxis(gxA, 2.6, 22);

    const gyA = svg.append("g")
        .attr("transform", "translate(91,0)")
        .call(d3.axisLeft(yA).tickValues(yTicksA).tickSize(8).tickSizeOuter(0).tickPadding(10));
    styleAxis(gyA, 2.6, 22);
    gyA.selectAll("text").attr("dy", "0.36em");

    svg.append("text")
        .attr("x", 321).attr("y", 411)
        .attr("text-anchor", "middle")
        .style("font-family", SERIF)
        .style("font-weight", "bold").style("font-size", "24px")
        .text("Time After Hemorrhage (days)");

    svg.append("text")
        .attr("transform", "translate(31,190) rotate(-90)")
        .attr("text-anchor", "middle")
        .style("font-family", SERIF)
        .style("font-weight", "bold").style("font-size", "24px")
        .text("DHET Conc. (ng/ml)");

    svg.append("text")
        .attr("x", 11).attr("y", 30)
        .style("font-family", '"Liberation Sans", Arial, sans-serif')
        .style("font-weight", "bold").style("font-size", "21px")
        .text("A");

    // ================= panel B =================
    const xB = d3.scaleLinear().domain([1.5,11.5]).range([91,497]);
    const yB = d3.scaleLog().domain([0.1,10]).range([745,477]);

    const gxB = svg.append("g")
        .attr("transform", "translate(0,745)")
        .call(d3.axisBottom(xB).tickValues(days).tickSize(9).tickSizeOuter(0).tickFormat(""));
    styleAxis(gxB, 2.2, 19);

    gxB.selectAll(".tick").append("text")
        .attr("x", 2).attr("y", 22)
        .attr("dy", "0.35em")
        .attr("fill", "#000")
        .attr("text-anchor", "end")
        .attr("transform", "rotate(-45, 2, 22)")
        .style("font-family", SERIF)
        .style("font-weight", "bold").style("font-size", "19px")
        .text(d => d);

    // minor ticks on the log axis
    const minor = yB.ticks().filter(v => !yTicksB.includes(v));
    svg.append("g").selectAll("line")
        .data(minor)
        .join("line")
            .attr("x1", 86).attr("x2", 91)
            .attr("y1", d => yB(d)).attr("y2", d => yB(d))
            .attr("stroke", "#000").attr("stroke-width", 1.6);

    const gyB = svg.append("g")
        .attr("transform", "translate(91,0)")
        .call(d3.axisLeft(yB).tickValues(yTicksB).tickFormat(d => d)
            .tickSize(9).tickSizeOuter(0).tickPadding(10));
    styleAxis(gyB, 2.2, 20);
    gyB.selectAll("text").attr("dy", "0.36em");

    const lineB = d3.line()
        .x((d, i) => xB(days[i]))
        .y(d => yB(d))
        .curve(d3.curveNatural);

    [lowFit, modFit, highFit].forEach(fit => {
        svg.append("path")
            .attr("d", lineB(fit))
            .attr("fill", "none")
            .attr("stroke", "#000")
            .attr("stroke-width", 2)
            .attr("stroke-dasharray", "7,5");
    });

    const groups = [
        {mean: lowMean, err: lowErr, shape: "cross"},
        {mean: modMean, err: modErr, shape: "open"},
        {mean: highMean, err: highErr, shape: "dot"}
    ];

    function marker(g, shape, cx, cy){
        if (shape === "cross") {
            g.append("path")
                .attr("d", `M${cx-2.5},${cy-2.5}L${cx+2.5},${cy+2.5}M${cx-2.5},${cy+2.5}L${cx+2.5},${cy-2.5}`)
                .attr("stroke", "#000").attr("stroke-width", 2.2);
        } else if (shape === "open") {
            g.append("circle").attr("cx", cx).attr("cy", cy).attr("r", 3.3)
                .attr("fill", "#fff").attr("stroke", "#000").attr("stroke-width", 1.7);
        } else {
            g.append("circle").attr("cx", cx).attr("cy", cy).attr("r", 2.8).attr("fill", "#000");
        }
    }

    groups.forEach(grp => {
        const g = svg.append("g");
        grp.mean.forEach((m, i) => {
            const cx = xB(days[i]);
            const top = yB(m + grp.err[i]), bot = yB(m - grp.err[i]);
            g.append("path")
                .attr("d", `M${cx-4},${top}H${cx+4}M${cx},${top}V${bot}M${cx-4},${bot}H${cx+4}`)
                .attr("fill", "none").attr("stroke", "#000").attr("stroke-width", 2);
            marker(g, grp.shape, cx, yB(m));
        });
    });

    svg.append("text")
        .attr("x", 294).attr("y", 817)
        .attr("text-anchor", "middle")
        .style("font-family", SERIF)
        .style("font-weight", "bold").style("font-size", "22px")
        .text("Time After Hemorrhage (days)");

    svg.append("text")
        .attr("transform", "translate(30,611) rotate(-90)")
        .attr("text-anchor", "middle")
        .style("font-family", SERIF)
        .style("font-weight", "bold").style("font-size", "22px")
        .text("DHET Conc. (ng/ml)");

    svg.append("text")
        .attr("x", 11).attr("y", 470)
        .style("font-family", '"Liberation Sans", Arial, sans-serif')
        .style("font-weight", "bold").style("font-size", "21px")
        .text("B");

    // legend
    const legend = svg.append("g");
    legendNames.forEach((name, i) => {
        const cy = 495 + i * 31;
        marker(legend, groups[i].shape, 531, cy);
        legend.append("text")
            .attr("x", 547).attr("y", cy + 7)
            .style("font-family", SERIF)
            .style("font-size", "22px")
            .text(name);
    });

</script>
</html>
